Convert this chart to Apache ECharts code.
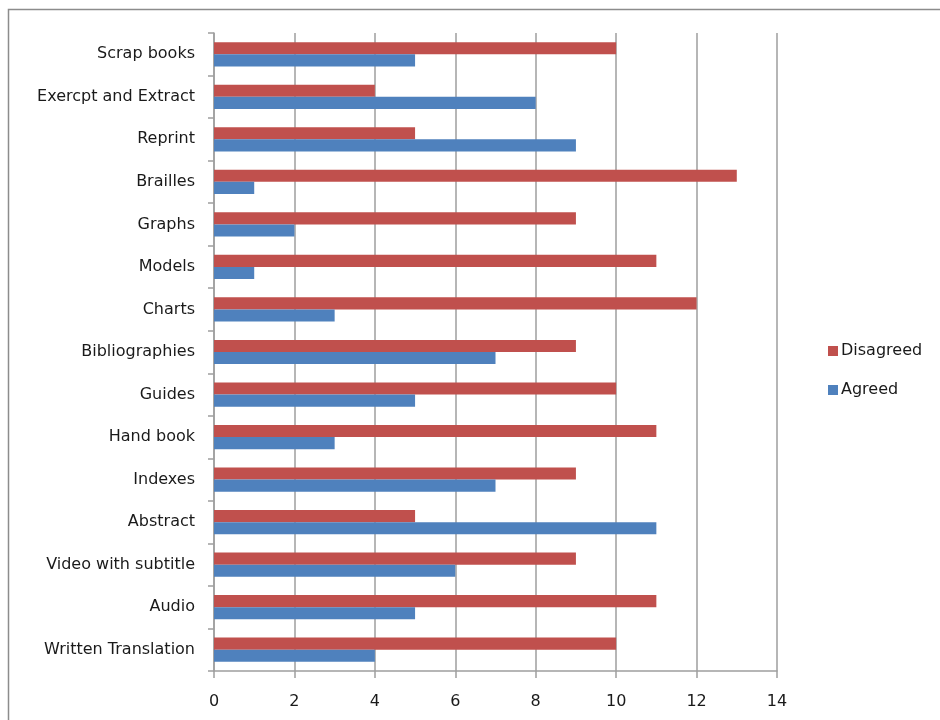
<!DOCTYPE html>
<html>
<head>
<meta charset="utf-8">
<script src="https://cdn.jsdelivr.net/npm/echarts@6/dist/echarts.min.js"></script>
<style>
  html, body { margin: 0; padding: 0; background: #fff; }
  #chart { width: 940px; height: 720px; }
</style>
</head>
<body>
<div id="chart"></div>
<script>
// Categories listed bottom to top (category axis starts at the bottom)
var categories = [
  'Written Translation', 'Audio', 'Video with subtitle', 'Abstract', 'Indexes',
  'Hand book', 'Guides', 'Bibliographies', 'Charts', 'Models', 'Graphs',
  'Brailles', 'Reprint', 'Exercpt and Extract', 'Scrap books'
];
var agreed    = [4, 5, 6, 11, 7, 3, 5, 7, 3, 1, 2, 1, 9, 8, 5];
var disagreed = [10, 11, 9, 5, 9, 11, 10, 9, 12, 11, 9, 13, 5, 4, 10];
var xTicks = { min: 0, max: 14, step: 2 };

var font = '"DejaVu Sans", "Liberation Sans", sans-serif';
var gridColor = '#9e9e9e';

var chart = echarts.init(document.getElementById('chart'), null, { renderer: 'canvas' });
chart.setOption({
  animation: false,
  backgroundColor: '#ffffff',
  textStyle: { fontFamily: font },
  graphic: [{
    type: 'rect',
    shape: { x: 8.5, y: 9.5, width: 1000, height: 1000 },
    style: { fill: 'none', stroke: '#8c8c8c', lineWidth: 1.5 },
    silent: true,
    z: -1
  }],
  grid: { left: 214, top: 33, width: 563, height: 638, containLabel: false },
  legend: {
    data: ['Disagreed', 'Agreed'],
    orient: 'vertical',
    left: 823,
    top: 338,
    itemWidth: 10,
    itemHeight: 10,
    itemGap: 23,
    icon: 'rect',
    textStyle: { fontSize: 16, color: '#1a1a1a', fontFamily: font, padding: [0, 0, 0, -2] }
  },
  xAxis: {
    type: 'value',
    min: xTicks.min,
    max: xTicks.max,
    interval: xTicks.step,
    axisLine: { show: true, lineStyle: { color: gridColor, width: 1.5 } },
    axisTick: { show: true, length: 7, lineStyle: { color: gridColor, width: 1.5 } },
    axisLabel: { fontSize: 16, color: '#1a1a1a', margin: 23 },
    splitLine: { show: true, lineStyle: { color: gridColor, width: 1.5 } }
  },
  yAxis: {
    type: 'category',
    data: categories,
    axisLine: { show: true, lineStyle: { color: gridColor, width: 1.5 } },
    axisTick: { show: true, length: 6, lineStyle: { color: gridColor, width: 1.5 } },
    axisLabel: { fontSize: 16, color: '#1a1a1a', margin: 19 }
  },
  series: [
    {
      name: 'Disagreed', type: 'bar', data: disagreed,
      itemStyle: { color: '#C0504D' },
      barGap: '0%', barCategoryGap: '43%'
    },
    {
      name: 'Agreed', type: 'bar', data: agreed,
      itemStyle: { color: '#4F81BD' },
      barGap: '0%', barCategoryGap: '43%'
    }
  ]
});
</script>
</body>
</html>
